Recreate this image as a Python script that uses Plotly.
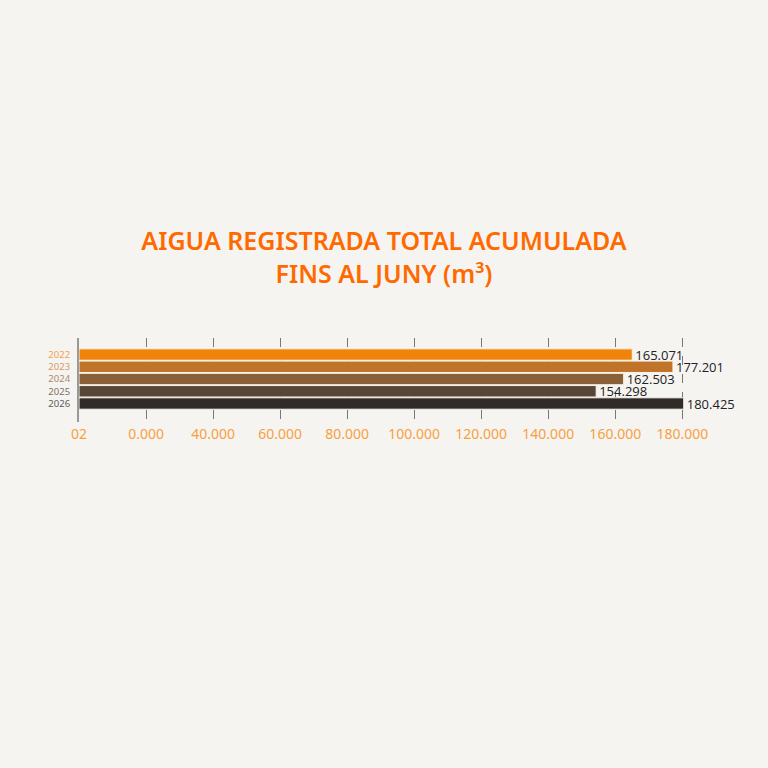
import plotly.graph_objects as go

years = ["2022", "2023", "2024", "2025", "2026"]
values = [165071, 177201, 162503, 154298, 180425]
value_labels = ["165.071", "177.201", "162.503", "154.298", "180.425"]
bar_colors = ["#F0840A", "#C0742A", "#8A6038", "#574636", "#302B28"]
year_label_colors = ["#F4A050", "#D49A64", "#B08A6A", "#7E7060", "#5E5A58"]
x_tick_vals = [0, 20000, 40000, 60000, 80000, 100000, 120000, 140000, 160000, 180000]
x_tick_text = ["02", "0.000", "40.000", "60.000", "80.000", "100.000", "120.000", "140.000", "160.000", "180.000"]

BG = "#F5F4F1"

fig = go.Figure()
fig.add_trace(go.Bar(
    y=years, x=values, orientation="h",
    marker=dict(color=bar_colors, line=dict(color="#FBF3E6", width=1)),
    width=0.93,
    text=value_labels, textposition="outside", cliponaxis=False,
    constraintext="none",
    textfont=dict(family="Open Sans", size=13, color="#222222"),
    hoverinfo="skip",
))

fig.update_layout(
    width=768, height=768,
    paper_bgcolor=BG, plot_bgcolor=BG,
    margin=dict(l=79, r=22, t=338, b=346),
    showlegend=False,
    title=dict(
        text="AIGUA REGISTRADA TOTAL ACUMULADA<br>FINS AL JUNY (m³)",
        x=0.5, xanchor="center", xref="container",
        y=1 - 250 / 768, yanchor="middle", yref="container",
        font=dict(family="Noto Sans", size=25, color="#FF6A00", weight=600),
    ),
    xaxis=dict(
        range=[0, 199000],
        tickvals=x_tick_vals, ticktext=x_tick_text,
        tickfont=dict(family="Noto Sans", size=14, color="#F8A040"),
        showgrid=True, gridcolor="#777777", gridwidth=1, griddash="dash",
        zeroline=False, showline=False, ticks="", ticklabelstandoff=2,
    ),
    yaxis=dict(
        type="category",
        range=[5.51, -1.35],
        tickvals=years,
        ticktext=[f'<span style="color:{c}">{y}</span>' for y, c in zip(years, year_label_colors)],
        tickfont=dict(family="Noto Sans", size=9.5),
        showgrid=False, zeroline=False,
        showline=True, linecolor="#999999", linewidth=2,
        ticks="", ticklabelstandoff=5,
    ),
)

fig.write_html(
    "out.html",
    config={"displayModeBar": False},
    post_script="document.body.style.margin='0';document.body.style.background='%s';" % BG,
)
